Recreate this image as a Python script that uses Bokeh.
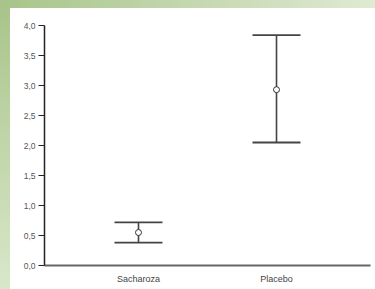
from bokeh.plotting import figure
from bokeh.models import (ColumnDataSource, FactorRange, Range1d, Whisker, TeeHead,
                          FixedTicker, GlobalInlineStyleSheet)
from bokeh.embed import file_html
from bokeh.resources import INLINE

# ---- data ----
categories = ["Sacharoza", "Placebo"]
means = [0.55, 2.93]
lower = [0.38, 2.05]
upper = [0.72, 3.84]
y_ticks = [0.0, 0.5, 1.0, 1.5, 2.0, 2.5, 3.0, 3.5, 4.0]
y_tick_labels = ["0,0", "0,5", "1,0", "1,5", "2,0", "2,5", "3,0", "3,5", "4,0"]

src = ColumnDataSource(dict(cat=categories, mean=means, lower=lower, upper=upper))

p = figure(frame_width=326, frame_height=240, output_backend="svg", toolbar_location=None,
           x_range=FactorRange(factors=categories, range_padding=0.181,
                               range_padding_units="absolute"),
           y_range=Range1d(0, 4.0),
           min_border_left=44, min_border_right=5, min_border_top=25,
           min_border_bottom=22)
p.outline_line_color = None
p.border_fill_color = None
p.background_fill_color = "white"
p.xgrid.visible = False
p.ygrid.visible = False

css = """
body {
  background:
    linear-gradient(to right, #a8c489, #e0eAd4) left top / 100% 8px no-repeat,
    linear-gradient(to bottom, #a8c489, #d9e7ca) left top / 10px 100% no-repeat,
    #ffffff;
}
"""
p.stylesheets = [GlobalInlineStyleSheet(css=css)]

# y axis
ya = p.yaxis[0]
ya.ticker = FixedTicker(ticks=y_ticks)
ya.major_label_overrides = {t: l for t, l in zip(y_ticks, y_tick_labels)}
ya.minor_tick_line_color = None
ya.major_tick_in = 0
ya.major_tick_out = 6
ya.major_tick_line_color = "#222222"
ya.major_tick_line_width = 1.2
ya.axis_line_color = "#222222"
ya.axis_line_width = 1.5
ya.major_label_text_font = "Liberation Sans"
ya.major_label_text_font_size = "8.5px"
ya.major_label_text_color = "#555555"
ya.major_label_standoff = 3

# x axis
xa = p.xaxis[0]
xa.major_tick_line_color = None
xa.minor_tick_line_color = None
xa.major_tick_out = 0
xa.major_tick_in = 0
xa.axis_line_color = "#666666"
xa.axis_line_width = 2
xa.major_label_text_font = "Liberation Sans"
xa.major_label_text_font_size = "9px"
xa.major_label_text_color = "#444444"
xa.major_label_standoff = 8

# error bars
w = Whisker(base="cat", lower="lower", upper="upper", source=src, dimension="height",
            line_color="#444444", line_width=1.6,
            upper_head=TeeHead(size=48, line_color="#444444", line_width=1.8),
            lower_head=TeeHead(size=48, line_color="#444444", line_width=1.8))
p.add_layout(w)

p.scatter(x="cat", y="mean", source=src, size=6, marker="circle",
          fill_color="white", line_color="#333333", line_width=1)

open("out.html", "w").write(file_html(p, INLINE))
